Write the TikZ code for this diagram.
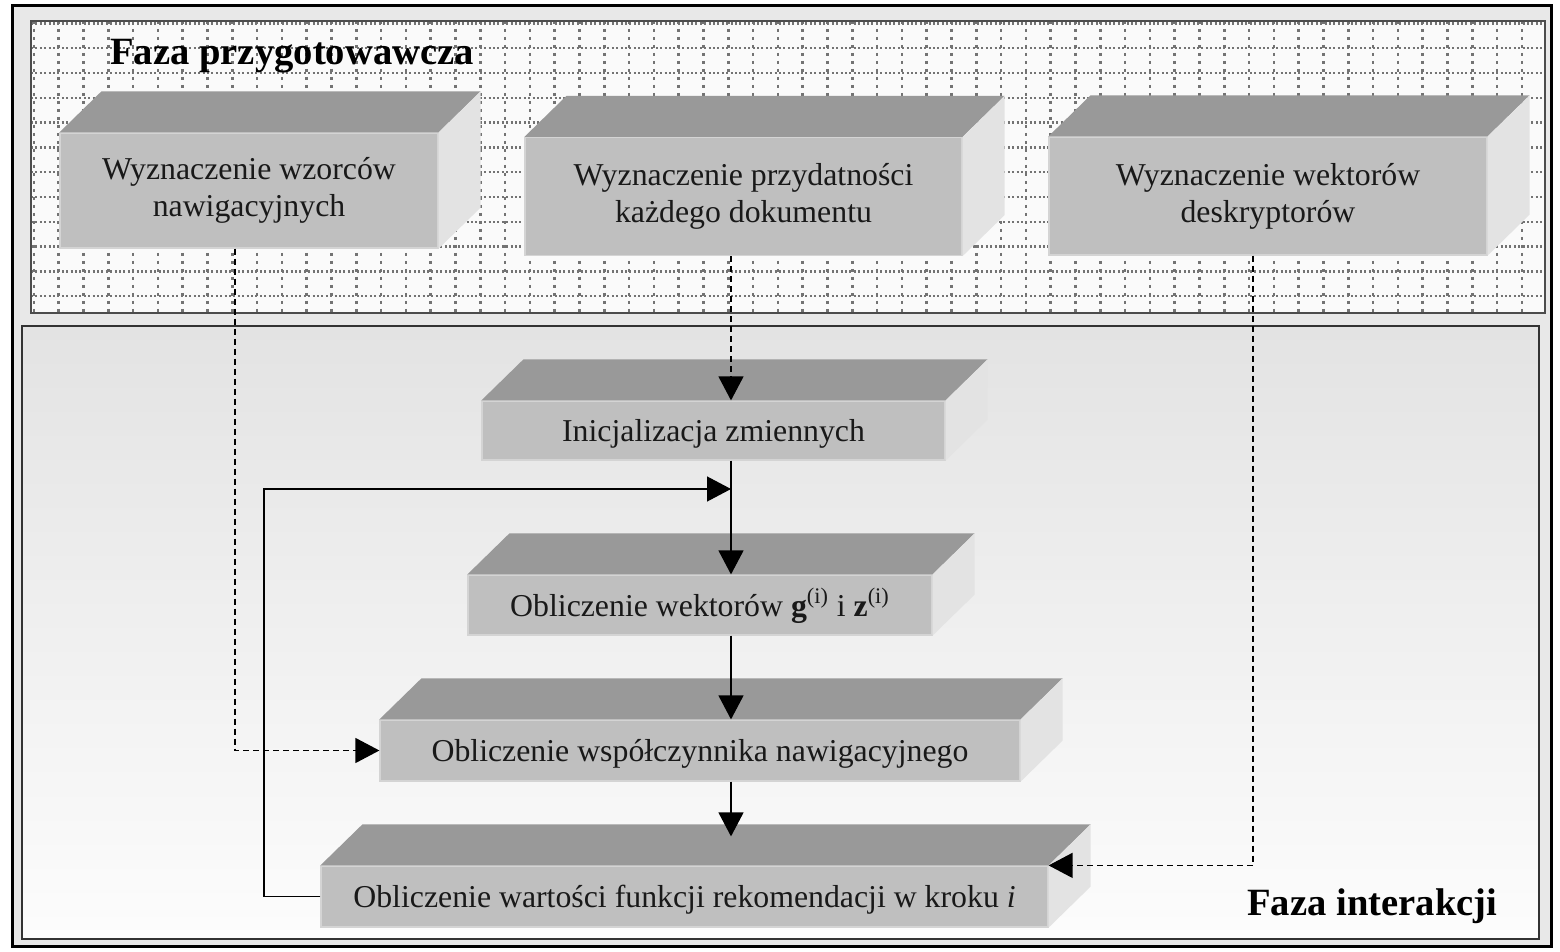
\documentclass[tikz,border=0pt]{standalone}
\usepackage{fontspec}
\setmainfont{Liberation Serif}
\usetikzlibrary{calc}
\usetikzlibrary{arrows.meta}

% bryla: gorna i boczna sciana klocka
\newcommand{\bryla}[1]{%
 \fill[gorna] (#1.north west) -- ++(42,-41) -- ($(#1.north east)+(42,-41)$)
       -- (#1.north east) -- cycle;
 \fill[boczna] (#1.north east) -- ++(42,-41) -- ($(#1.south east)+(42,-41)$)
       -- (#1.south east) -- cycle;}

\tikzset{
  klocek/.style={fill=black!25, draw=black!17, line width=0.6pt, inner sep=0pt,
                 align=center, text=black!90,
                 font=\fontsize{15.9}{18.5}\selectfont},
  niski/.style={klocek, text height=14pt, text depth=3pt},
  gorna/.style={fill=black!40},
  boczna/.style={fill=black!11},
  naglowek/.style={font=\bfseries\fontsize{19.3}{22}\selectfont, inner sep=0pt},
  siatka pion/.style={black!55, line width=1.3pt, dash pattern=on 1.3pt off 2.7pt},
  siatka poz/.style={black!55, line width=1.2pt, dash pattern=on 1pt off 1.2pt},
  strzalka/.style={draw, line width=0.65pt, -{Triangle[length=12pt,width=12.5pt]}},
  przerywana/.style={strzalka, dash pattern=on 3pt off 2pt}
}

\begin{document}
\begin{tikzpicture}[x=0.5pt, y=-0.5pt]
 \useasboundingbox[fill=white] (0,0) rectangle (1560,952);
 \draw[line width=1.5pt, fill=black!9] (12,6) rectangle (1551,946);

 % faza przygotowawcza
 \fill[black!2] (31,21) rectangle (1545,313);
 \foreach \k in {0,...,60}
   \draw[siatka pion] ({33.8+24.8*\k},21) -- ({33.8+24.8*\k},313);
 \foreach \k in {0,...,11}
   \draw[siatka poz] (31,{23.5+24.8*\k}) -- (1545,{23.5+24.8*\k});
 \draw[black!70, line width=0.9pt] (31,21) rectangle (1545,313);

 % faza interakcji
 \shade[top color=black!11, bottom color=black!1] (22,326) rectangle (1539,939);
 \draw[black!80, line width=0.7pt] (22,326) rectangle (1539,939);

 \node[naglowek, anchor=base west] (fp) at (110,65) {Faza przygotowawcza};
 \node[naglowek, anchor=base west] (fi) at (1247,915) {Faza interakcji};

 \node[klocek, minimum width=189pt, minimum height=57.5pt] (A) at (249,190.5)
      {Wyznaczenie wzorców\\nawigacyjnych};
 \node[klocek, minimum width=218.5pt, minimum height=59pt] (B) at (743.5,196.5)
      {Wyznaczenie przydatności\\każdego dokumentu};
 \node[klocek, minimum width=219pt, minimum height=59pt] (C) at (1268,196)
      {Wyznaczenie wektorów\\deskryptorów};
 \node[niski, minimum width=231.5pt, minimum height=29.5pt] (D) at (713.5,430.5)
      {Inicjalizacja zmiennych};
 \node[niski, minimum width=232pt, minimum height=30pt] (E) at (700,605)
      {Obliczenie wektorów {\bfseries g}\textsuperscript{(i)} i {\bfseries z}\textsuperscript{(i)}};
 \node[niski, minimum width=320pt, minimum height=30.5pt] (F) at (700,750.5)
      {Obliczenie współczynnika nawigacyjnego};
 \node[niski, minimum width=363.5pt, minimum height=30.5pt] (G) at (684.5,896.5)
      {Obliczenie wartości funkcji rekomendacji w kroku \textit{i}};
 \foreach \n in {A,B,C,D,E,F,G} {\bryla{\n}}

 \coordinate (os) at (731,0);
 \coordinate (wA) at (235,0);
 \coordinate (wC) at (1253,0);
 \coordinate (petla) at (264,489);

 \draw[przerywana] (A.south -| wA) |- (F.west);
 \draw[przerywana] (B.south -| os) -- (D.north -| os);
 \draw[przerywana] (C.south -| wC) |- (G.north east);
 \draw[strzalka] (D.south -| os) -- (E.north -| os);
 \draw[strzalka] (E.south -| os) -- (F.north -| os);
 \draw[strzalka] (F.south -| os) -- ($(G.north -| os)+(0,-29)$);
 \draw[strzalka] (G.west) -| (petla) -- (petla -| os);
\end{tikzpicture}
\end{document}
